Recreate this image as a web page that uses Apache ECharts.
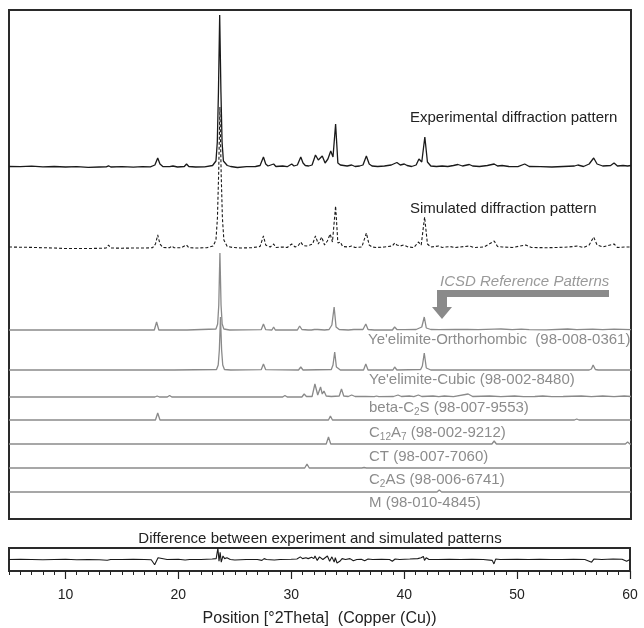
<!DOCTYPE html>
<html><head><meta charset="utf-8">
<script src="https://cdn.jsdelivr.net/npm/echarts@6/dist/echarts.min.js"></script>
<style>html,body{margin:0;padding:0;background:#fff}#c{width:644px;height:628px}</style>
</head><body><div id="c"></div>
<script>
// ---- data: [2Theta (deg), intensity above the pattern's own baseline (a.u.)] ----
const experimental = [[5,0.5],[6,0.3],[7,0.8],[8,0.2],[9,0.5],[10,0],[11,0.3],[12,-0.3],[13,0],[13.6,0.2],[13.8,1.2],[14,0],[15,0.4],[16,-0.2],[16.8,0.3],[17.5,0.2],[17.9,2],[18.15,9],[18.35,3],[18.6,0.5],[19.2,0.3],[19.5,1],[19.9,0],[20.5,0.5],[20.7,3],[20.9,0.5],[21.5,0],[22.3,0.2],[23.0,1.5],[23.3,6],[23.42,25],[23.52,75],[23.63,152],[23.74,75],[23.84,25],[23.96,6],[24.3,1.5],[24.6,0.5],[25.2,-0.5],[26,0.3],[26.8,0.5],[27.2,1.5],[27.5,10],[27.7,3],[27.9,1],[28.4,3],[28.6,0.5],[29.2,1],[29.6,0.3],[30.0,3],[30.2,1],[30.5,2],[30.8,10],[31.0,4],[31.2,1.5],[31.5,1],[31.8,2],[32.1,12],[32.35,7],[32.7,11],[32.95,4],[33.2,8],[33.45,16],[33.65,10],[33.88,43],[34.08,4],[34.3,2],[34.6,1.5],[34.9,1],[35.3,2],[35.6,0.5],[36.0,1],[36.3,2],[36.6,11],[36.85,3],[37.1,1],[37.6,0.5],[38.2,1],[38.8,2],[39.0,3],[39.3,4.5],[39.6,2],[39.95,3],[40.2,1.5],[40.6,0.5],[41.0,2],[41.25,8],[41.5,5],[41.77,30],[42.0,5],[42.3,1],[42.8,0.5],[43.3,1],[43.8,0.5],[44.3,1.5],[44.7,2.5],[45.1,1],[45.7,2.5],[46.0,1],[46.6,0.5],[47.3,1.5],[47.9,3],[48.2,1],[48.6,1.5],[49.2,0.5],[50.0,0.3],[50.6,3],[51.0,0.5],[52.0,0.3],[53.0,0],[54.0,0.5],[55.0,1],[55.3,2],[55.8,0.5],[56.3,3],[56.7,9],[57.0,3],[57.5,1],[58.2,1.5],[58.5,4],[58.8,1],[59.3,1.5],[59.7,1],[60,1.5]];

const simulated = [[5,1],[6,0.8],[7,0.6],[8,0.3],[9,0],[10,-0.5],[11,-0.5],[12,-0.5],[13,-0.3],[13.6,0],[13.8,3],[14.0,0],[15,-0.2],[16,0],[17,0],[17.7,0.3],[17.95,4],[18.15,13],[18.35,4],[18.6,0.5],[19.2,0.3],[19.4,2],[19.6,0.3],[20.2,0.2],[20.7,3],[20.9,0.3],[21.5,0],[22.5,0.3],[23.05,2],[23.3,8],[23.43,30],[23.54,75],[23.65,141],[23.76,75],[23.87,30],[24.0,8],[24.3,1.5],[24.8,0.5],[25.5,0],[26.5,0.3],[27.2,1.5],[27.5,12],[27.7,3],[28.1,1],[28.4,4],[28.6,0.5],[29.2,1],[29.6,0.5],[30,4],[30.3,1],[30.55,2],[30.8,6],[31,2.5],[31.3,2],[31.6,3],[31.85,4],[32.1,12],[32.35,4],[32.65,11],[32.9,3],[33.15,7],[33.4,14],[33.6,6],[33.88,42],[34.08,5],[34.3,6],[34.5,1.5],[35.0,1],[35.3,2],[35.6,0.5],[36.2,1],[36.6,15],[36.85,3],[37.1,1],[37.5,0.5],[38.2,1],[38.9,2],[39.1,5],[39.3,3],[39.6,2],[39.9,3],[40.3,1],[40.8,0.5],[41.2,6],[41.45,3],[41.75,31],[42.0,4],[42.3,1],[43.0,2],[43.3,0.5],[44,1.5],[44.4,0.5],[44.9,1],[45.7,2],[46.1,0.5],[47,1],[47.9,7],[48.2,1.5],[48.6,1],[49.5,0.5],[50.7,3],[51.2,0.5],[52.5,0.3],[53.5,0.5],[54.5,1],[55.3,2],[55.8,0.5],[56.3,3],[56.7,11],[57.0,3],[57.5,1],[58.5,4],[58.8,0.5],[59.5,1],[60,1]];

const yeelimiteOrtho = [[5,0],[6.9,0],[7.0,0.8],[7.1,0],[9.6,0],[9.7,0.8],[9.8,0],[13.5,0],[13.65,1.5],[13.8,0],[15.2,0],[15.3,0.8],[15.4,0],[17.85,0],[18.05,8],[18.25,0],[19.3,0],[19.45,1],[19.6,0],[20.45,0],[20.6,2],[20.75,0],[23.3,1],[23.45,6],[23.55,25],[23.65,77],[23.75,25],[23.85,6],[24.0,1],[24.5,0],[27.3,0.3],[27.5,6],[27.7,0.3],[28.25,0],[28.4,3],[28.55,0],[29.85,0],[30,2],[30.15,0],[30.5,0],[30.7,4],[30.9,0.5],[31.45,0],[31.6,2],[31.75,0],[32.0,0.5],[32.15,2],[32.3,0.5],[32.9,0],[33.3,0.5],[33.55,5],[33.75,23],[33.92,3],[34.2,0.5],[35.0,0],[35.5,0.5],[36.3,0.5],[36.55,6],[36.75,0.5],[37.3,0],[37.45,1],[37.6,0],[38.9,0],[39.1,3],[39.3,0.5],[39.7,0.3],[39.85,2],[40.0,0.3],[41.0,0.5],[41.5,3],[41.72,13],[41.9,2],[42.3,0.5],[43,0.3],[44.5,0.5],[45.5,0.5],[46.5,0.3],[47.9,0.8],[48.5,1],[49.5,0.3],[50.3,0.8],[51,0.3],[52.5,0.2],[54.4,1],[55.2,0.3],[56.6,0.8],[57.5,0.3],[58.5,0.8],[60,0.3]];

const yeelimiteCubic = [[5,0],[13.55,0],[13.7,2],[13.85,0],[19.3,0],[19.45,1],[19.6,0],[23.35,0.5],[23.5,5],[23.6,20],[23.7,53],[23.8,20],[23.9,5],[24.05,0.5],[24.6,0],[27.3,0.3],[27.5,6],[27.7,0.3],[30.6,0],[30.8,3],[31.0,0],[33.5,0.5],[33.65,5],[33.8,18],[33.95,3],[34.3,0],[36.35,0],[36.55,6],[36.75,0],[38.95,0],[39.1,3],[39.3,0],[41.4,0.5],[41.55,4],[41.72,17],[41.9,2],[42.3,0],[48.35,0],[48.5,2],[48.65,0],[56.3,0],[56.5,1],[56.65,5],[56.85,0.5],[57.1,0],[58.35,0],[58.5,2],[58.65,0],[60,0]];

const betaC2S = [[5,0],[17.9,0],[18.1,1],[18.3,0],[19.0,0],[19.2,1.5],[19.4,0],[23.25,0],[23.4,1],[23.55,0],[26.35,0],[26.5,1],[26.65,0],[27.35,0],[27.5,1],[27.65,0],[29.2,0],[29.4,1.5],[29.6,0],[30.9,0],[31.1,3],[31.3,0.5],[31.8,0.5],[32.05,13],[32.3,2],[32.55,10],[32.7,3],[32.85,6],[33.05,1],[33.5,0.5],[34.2,1],[34.4,8],[34.6,1],[35.0,0.5],[35.3,2],[35.6,0.5],[36.5,0.5],[37.3,0.3],[37.5,1],[37.7,0.3],[39.0,0.5],[39.4,2],[39.7,0.5],[40.4,1],[40.8,0.3],[41.2,2],[41.5,0.5],[42.5,1],[43,0.3],[43.5,1],[44.3,0.3],[45.6,3],[46.0,0.5],[47.5,1],[48.5,0.3],[49.7,1],[50.5,0.3],[51.5,0.5],[52.2,1],[53,0.3],[54,0.5],[55.6,1],[56.5,0.3],[57.5,1],[58.5,0.3],[59.4,1],[60,0.5]];

const c12a7 = [[5,0],[17.95,0],[18.15,7],[18.35,0],[23.35,0],[23.5,1],[23.65,0],[27.75,0],[27.9,1],[28.05,0],[29.7,0],[29.85,1.5],[30.0,0],[33.25,0],[33.42,4],[33.6,0],[36.7,0],[36.85,1],[37.0,0],[41.1,0],[41.25,1],[41.4,0],[46.5,0],[46.65,1],[46.8,0],[55.0,0],[55.2,1],[55.4,0],[57.4,0],[57.5,1],[57.6,0],[60,0]];

const ct = [[5,0],[23.25,0],[23.4,1],[23.55,0],[33.05,0],[33.25,7],[33.45,0],[47.7,0],[47.9,3],[48.1,0],[59.5,0],[59.7,2],[59.9,0],[60,0]];

const c2as = [[5,0],[23.75,0],[23.9,1],[24.05,0],[28.85,0],[29.0,1],[29.15,0],[31.15,0],[31.35,4],[31.55,0],[36.2,0],[36.4,0.5],[36.6,0],[52.0,0],[52.1,0.5],[52.2,0],[60,0]];

const periclase = [[5,0],[36.8,0],[36.95,0.5],[37.1,0],[42.85,0],[43.05,2],[43.25,0],[60,0]];

const difference = [[5,0],[6,0.3],[7,0],[8,-0.3],[9,0],[10,0.2],[11,-0.2],[12,0],[13,-0.2],[13.7,-0.8],[14,0],[15,0],[16,0.2],[17,0],[17.6,-0.3],[17.9,-6],[18.05,-2],[18.2,2],[18.35,0],[19,0],[20,0.3],[20.6,-0.5],[21,0],[22,0],[23.0,0.5],[23.35,1],[23.5,13],[23.6,-2],[23.7,8],[23.8,-3],[23.95,4],[24.1,1],[24.3,2],[24.6,0],[25,-0.5],[26,0],[27,0],[27.4,-1],[27.6,1],[27.8,0],[28.5,-0.5],[29,0],[30,0.3],[30.5,0.5],[30.8,3],[31.0,1],[31.3,2],[31.5,1],[31.8,2.5],[32.0,1],[32.1,4],[32.3,-1],[32.5,3],[32.65,5],[32.8,0],[33.0,2],[33.2,4],[33.4,-2],[33.6,3],[33.8,-3],[33.9,2],[34.05,-4],[34.3,-2],[34.5,1],[34.8,0],[35.2,1],[35.5,-1.5],[35.8,0],[36.2,0.3],[36.5,-1.5],[36.8,0.5],[37.2,0],[38,0.3],[38.7,0],[38.95,-2],[39.2,0.5],[39.6,0],[40.5,0.5],[41.2,1],[41.5,2],[41.7,3.5],[41.8,-1],[41.95,2],[42.2,0],[43,0],[44,0.3],[45,0],[46,0.2],[47,0],[47.8,-1],[47.95,-5],[48.1,0.5],[48.5,0],[50,0.3],[51,0],[52,0.3],[53,0],[54,0],[55,0.2],[56,0],[56.6,-3],[56.8,0.5],[57.5,0],[58.5,0.5],[59.3,0.3],[59.7,-2],[60,0]];

const xTickLabels = [10, 20, 30, 40, 50, 60];

// ---- layout / style ----
const FONT = '"Liberation Sans", Arial, Helvetica, sans-serif';
const GRID_H = 509;
const layers = [
  {name:'Experimental diffraction pattern', data: experimental, base: 352, color:'#1a1a1a', dash:'solid', width:1.3, z:6},
  {name:'Simulated diffraction pattern', data: simulated, base: 271, color:'#1a1a1a', dash:[3,2], width:1.1, z:4},
  {name:'Ye\'elimite-Orthorhombic', data: yeelimiteOrtho, base: 189, color:'#8a8a8a', dash:'solid', width:1.3, z:3},
  {name:'Ye\'elimite-Cubic', data: yeelimiteCubic, base: 149, color:'#8a8a8a', dash:'solid', width:1.3, z:3},
  {name:'beta-C2S', data: betaC2S, base: 122, color:'#8a8a8a', dash:'solid', width:1.3, z:3},
  {name:'C12A7', data: c12a7, base: 99, color:'#8a8a8a', dash:'solid', width:1.3, z:3},
  {name:'CT', data: ct, base: 75, color:'#8a8a8a', dash:'solid', width:1.3, z:3},
  {name:'C2AS', data: c2as, base: 51, color:'#8a8a8a', dash:'solid', width:1.3, z:3},
  {name:'M', data: periclase, base: 27, color:'#8a8a8a', dash:'solid', width:1.3, z:3}
];

const yAxes = layers.map(l => ({type:'value', gridIndex:0, min:-l.base, max:GRID_H - l.base, show:false}));
yAxes.push({type:'value', gridIndex:1, min:-13, max:13, show:false});

const series = layers.map((l, i) => ({
  name: l.name, type:'line', xAxisIndex:0, yAxisIndex:i, data:l.data,
  showSymbol:false, symbol:'none', z:l.z, silent:true, animation:false,
  lineStyle:{color:l.color, width:l.width, type:l.dash}
}));
series.push({
  name:'Difference', type:'line', xAxisIndex:1, yAxisIndex:layers.length, data:difference,
  showSymbol:false, symbol:'none', silent:true, animation:false,
  lineStyle:{color:'#1a1a1a', width:1.1}
});

const grey = '#8c8c8c';
function txt(x, y, text, opt) {
  opt = opt || {};
  return {type:'text', x:x, y:y, z:100, style: Object.assign({
    text:text, fontSize:15, fontFamily:FONT, fill:'#222', align:'left', verticalAlign:'middle'
  }, opt)};
}
const subRich = {
  n:{fontSize:15, fontFamily:FONT, fill:grey, lineHeight:18},
  s:{fontSize:10, fontFamily:FONT, fill:grey, lineHeight:12, verticalAlign:'bottom'}
};

const option = {
  backgroundColor:'#ffffff',
  animation:false,
  grid:[
    {left:9, top:10, width:622, height:GRID_H, show:true, borderColor:'#2a2a2a', borderWidth:2, backgroundColor:'transparent'},
    {left:9, top:548, width:621, height:26, show:true, borderColor:'#2a2a2a', borderWidth:2, backgroundColor:'transparent'}
  ],
  xAxis:[
    {type:'value', gridIndex:0, min:5, max:60, show:false, axisLine:{onZero:false}},
    {type:'value', gridIndex:1, min:5, max:60, position:'bottom',
      axisLine:{show:false, onZero:false},
      axisTick:{show:true, customValues:xTickLabels, length:8, lineStyle:{color:'#222', width:1.2}},
      axisLabel:{show:true, customValues:xTickLabels, fontSize:14, fontFamily:FONT, color:'#222', margin:17},
      splitLine:{show:false},
      name:'Position [\u00b02Theta]  (Copper (Cu))', nameLocation:'middle', nameGap:40,
      nameTextStyle:{fontSize:16, fontFamily:FONT, color:'#222'}},
    {type:'value', gridIndex:1, min:5, max:60, interval:1, position:'bottom',
      axisLine:{show:false, onZero:false},
      axisTick:{show:true, length:4, lineStyle:{color:'#222', width:1}},
      axisLabel:{show:false}, splitLine:{show:false}}
  ],
  yAxis: yAxes,
  series: series,
  graphic:[
    txt(410, 118, 'Experimental diffraction pattern'),
    txt(410, 209, 'Simulated diffraction pattern'),
    txt(440, 282, 'ICSD Reference Patterns', {fill:'#999', fontStyle:'italic'}),
    {type:'polygon', z:100, shape:{points:[[437,290],[609,290],[609,297],[447,297],[447,307],[452,307],[442,319],[432,307],[437,307]]}, style:{fill:'#8a8a8a'}},
    txt(368, 340, 'Ye\'elimite-Orthorhombic  (98-008-0361)', {fill:grey}),
    txt(369, 380, 'Ye\'elimite-Cubic (98-002-8480)', {fill:grey}),
    {type:'text', x:369, y:408, z:100, style:{text:'{n|beta-C}{s|2}{n|S (98-007-9553)}', rich:subRich, verticalAlign:'middle', align:'left'}},
    {type:'text', x:369, y:433, z:100, style:{text:'{n|C}{s|12}{n|A}{s|7}{n| (98-002-9212)}', rich:subRich, verticalAlign:'middle', align:'left'}},
    txt(369, 457, 'CT (98-007-7060)', {fill:grey}),
    {type:'text', x:369, y:480, z:100, style:{text:'{n|C}{s|2}{n|AS (98-006-6741)}', rich:subRich, verticalAlign:'middle', align:'left'}},
    txt(369, 503, 'M (98-010-4845)', {fill:grey}),
    txt(320, 539, 'Difference between experiment and simulated patterns', {align:'center'})
  ]
};

const chart = echarts.init(document.getElementById('c'), null, {renderer:'canvas'});
chart.setOption(option);
</script>
</body></html>
